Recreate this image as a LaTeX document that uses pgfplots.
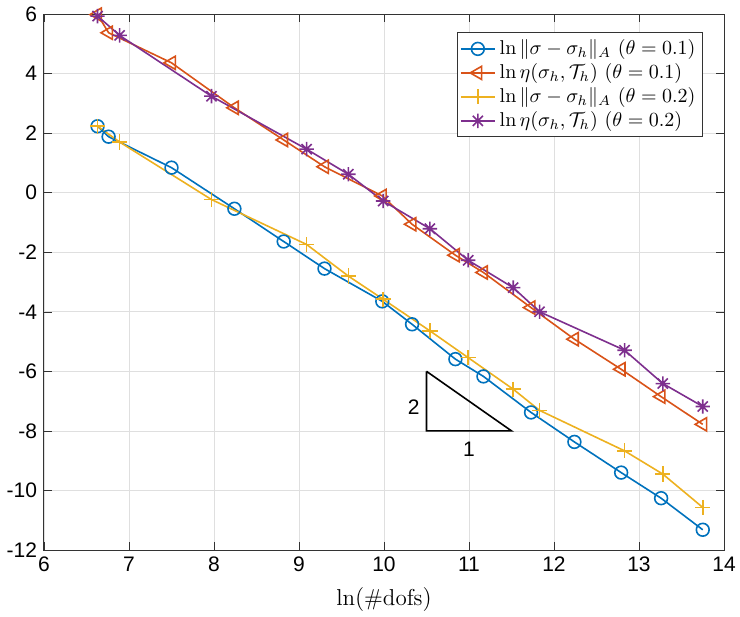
\documentclass[border=0pt]{standalone}
\usepackage{pgfplots}
\pgfplotsset{compat=1.18}
\usepackage{fontspec}
\newfontfamily\hel{Liberation Sans}
\definecolor{mblue}{rgb}{0,0.447,0.741}
\definecolor{morange}{rgb}{0.85,0.325,0.098}
\definecolor{myellow}{rgb}{0.929,0.694,0.125}
\definecolor{mpurple}{rgb}{0.494,0.184,0.556}
\pgfdeclareplotmark{mstar}{%
  \pgfpathmoveto{\pgfqpoint{0pt}{\pgfplotmarksize}}\pgfpathlineto{\pgfqpoint{0pt}{-\pgfplotmarksize}}%
  \pgfpathmoveto{\pgfqpoint{\pgfplotmarksize}{0pt}}\pgfpathlineto{\pgfqpoint{-\pgfplotmarksize}{0pt}}%
  \pgfpathmoveto{\pgfqpoint{0.707\pgfplotmarksize}{0.707\pgfplotmarksize}}\pgfpathlineto{\pgfqpoint{-0.707\pgfplotmarksize}{-0.707\pgfplotmarksize}}%
  \pgfpathmoveto{\pgfqpoint{-0.707\pgfplotmarksize}{0.707\pgfplotmarksize}}\pgfpathlineto{\pgfqpoint{0.707\pgfplotmarksize}{-0.707\pgfplotmarksize}}%
  \pgfusepathqstroke}
\begin{document}
\begin{tikzpicture}
\begin{axis}[
  scale only axis,
  width=340pt, height=268pt,
  xmin=6, xmax=14, ymin=-12, ymax=6,
  xtick={6,7,...,14}, ytick={-12,-10,...,6},
  grid=major,
  major grid style={gray!25, line width=0.4pt},
  axis line style={black!80, line width=0.5pt},
  tick style={black!80},
  tick align=inside,
  major tick length=4pt,
  tick label style={font=\hel\fontsize{10.5}{12}\selectfont},
  /pgf/number format/assume math mode=true,
  xlabel={\fontsize{11.5}{13}\selectfont$\ln(\#\mathrm{dofs})$},
  xlabel style={yshift=-1pt},
  legend style={at={(0.969,0.9655)}, anchor=north east, draw=black!80, fill=white,
    font=\fontsize{10}{12}\selectfont, inner sep=1.5pt, row sep=-1pt},
  legend cell align=left,
  every axis plot/.append style={line width=0.8pt},
]
\addplot[mblue, mark=o, mark size=3.2pt] coordinates {
(6.63,2.23)(6.76,1.88)(7.50,0.84)(8.24,-0.54)(8.82,-1.64)(9.30,-2.55)(9.98,-3.65)(10.33,-4.42)(10.84,-5.59)(11.17,-6.17)(11.73,-7.38)(12.24,-8.37)(12.79,-9.40)(13.26,-10.26)(13.75,-11.32)};
\addlegendentry{$\ln\|\sigma-\sigma_h\|_A\ (\theta=0.1)$}
\addplot[morange, mark=triangle, mark size=3.8pt, mark options={rotate=90}] coordinates {
(6.63,5.98)(6.76,5.37)(7.50,4.36)(8.24,2.85)(8.82,1.77)(9.30,0.87)(9.98,-0.11)(10.33,-1.06)(10.84,-2.10)(11.17,-2.68)(11.73,-3.86)(12.24,-4.92)(12.79,-5.93)(13.26,-6.85)(13.75,-7.78)};
\addlegendentry{$\ln\eta(\sigma_h,\mathcal{T}_h)\ (\theta=0.1)$}
\addplot[myellow, mark=+, mark size=3.8pt] coordinates {
(6.63,2.23)(6.89,1.70)(7.97,-0.23)(9.09,-1.74)(9.58,-2.80)(9.99,-3.58)(10.54,-4.64)(10.99,-5.54)(11.52,-6.60)(11.83,-7.31)(12.83,-8.67)(13.28,-9.45)(13.75,-10.57)};
\addlegendentry{$\ln\|\sigma-\sigma_h\|_A\ (\theta=0.2)$}
\addplot[mpurple, mark=mstar, mark size=3.6pt] coordinates {
(6.63,5.93)(6.89,5.28)(7.97,3.24)(9.09,1.46)(9.58,0.62)(9.99,-0.28)(10.54,-1.21)(10.99,-2.27)(11.52,-3.19)(11.83,-4.0)(12.83,-5.29)(13.28,-6.41)(13.75,-7.18)};
\addlegendentry{$\ln\eta(\sigma_h,\mathcal{T}_h)\ (\theta=0.2)$}
\addplot[black, line width=0.8pt, mark=none, forget plot] coordinates {(10.5,-6)(10.5,-8)(11.5,-8)(10.5,-6)};
\node[font=\hel\fontsize{10.5}{12}\selectfont, anchor=east] at (axis cs:10.5,-7.2) {2};
\node[font=\hel\fontsize{10.5}{12}\selectfont, anchor=north] at (axis cs:11.0,-8.15) {1};
\end{axis}
\pgfresetboundingbox
\path[use as bounding box] (current axis.south west) ++(-22pt,-33pt) rectangle ([xshift=8pt,yshift=7pt]current axis.north east);
\end{tikzpicture}
\end{document}
